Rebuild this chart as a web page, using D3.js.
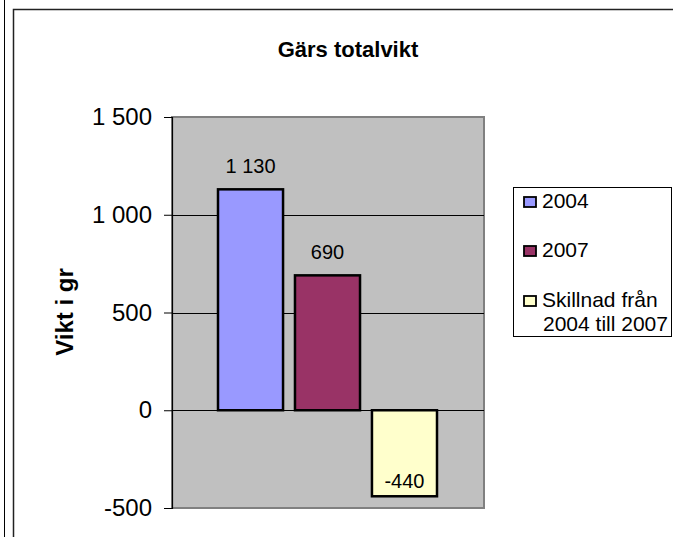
<!DOCTYPE html>
<html>
<head>
<meta charset="utf-8">
<script src="https://cdn.jsdelivr.net/npm/d3@7"></script>
<style>
  html, body { margin: 0; padding: 0; background: #fff; overflow: hidden; }
  svg { display: block; }
  text { font-family: "Liberation Sans", Arial, sans-serif; fill: #000; }
</style>
</head>
<body>
<svg id="chart" width="673" height="537"></svg>
<script>
// Series and their values
const seriesNames = ["2004", "2007", "Skillnad från 2004 till 2007"];
const legendLines = [["2004"], ["2007"], ["Skillnad från", "2004 till 2007"]];
const values = [1130, 690, -440];
const valueLabels = ["1 130", "690", "-440"];
const colors = ["#9999ff", "#993366", "#ffffcc"];
const yTicks = [-500, 0, 500, 1000, 1500];
const yTickLabels = ["-500", "0", "500", "1 000", "1 500"];

const svg = d3.select("#chart");

// Outer frames
svg.append("line").attr("x1", 4.5).attr("x2", 4.5).attr("y1", 0).attr("y2", 537)
  .attr("stroke", "#000").attr("stroke-width", 1);
svg.append("path").attr("d", "M13.5,537 V9.5 H673")
  .attr("fill", "none").attr("stroke", "#222").attr("stroke-width", 1.5);

const plot = { left: 172, right: 484, top: 117, bottom: 508 };

const y = d3.scaleLinear().domain([-500, 1500]).range([plot.bottom, plot.top]);
const x = d3.scaleBand().domain(seriesNames).range([plot.left + 46, plot.right - 47])
  .paddingInner(0.155).paddingOuter(0);

// Plot area
svg.append("rect").attr("x", plot.left).attr("y", plot.top)
  .attr("width", plot.right - plot.left).attr("height", plot.bottom - plot.top)
  .attr("fill", "#c0c0c0").attr("stroke", "#808080").attr("stroke-width", 2);

// Gridlines
svg.append("g").selectAll("line").data(yTicks.filter(t => t !== -500 && t !== 1500)).join("line")
  .attr("x1", plot.left).attr("x2", plot.right)
  .attr("y1", d => Math.round(y(d)) + 0.5).attr("y2", d => Math.round(y(d)) + 0.5)
  .attr("stroke", "#000").attr("stroke-width", 1);

// Y axis
const yAxis = d3.axisLeft(y).tickValues(yTicks)
  .tickFormat((d, i) => yTickLabels[i]).tickSize(8).tickPadding(12);
const gy = svg.append("g").attr("transform", `translate(${plot.left},0)`).call(yAxis);
gy.select(".domain").attr("stroke", "#000").attr("stroke-width", 1.2);
gy.selectAll(".tick line").attr("stroke", "#000");
gy.selectAll(".tick text").attr("font-size", 24).attr("fill", "#000")
  .attr("font-family", "'Liberation Sans', Arial, sans-serif");

// Bars
svg.append("g").selectAll("rect").data(values).join("rect")
  .attr("x", (d, i) => x(seriesNames[i]))
  .attr("y", d => y(Math.max(0, d)))
  .attr("width", x.bandwidth())
  .attr("height", d => Math.abs(y(d) - y(0)))
  .attr("fill", (d, i) => colors[i])
  .attr("stroke", "#000").attr("stroke-width", 2.5);

// Value labels
svg.append("g").selectAll("text").data(values).join("text")
  .attr("x", (d, i) => x(seriesNames[i]) + x.bandwidth() / 2)
  .attr("y", d => d >= 0 ? y(d) - 16 : y(d) - 8)
  .attr("text-anchor", "middle").attr("font-size", 20)
  .text((d, i) => valueLabels[i]);

// Title
svg.append("text").attr("x", 348).attr("y", 57).attr("text-anchor", "middle")
  .attr("font-size", 22).attr("font-weight", "bold").text("Gärs totalvikt");

// Y axis title
svg.append("text").attr("transform", "translate(73,312) rotate(-90)")
  .attr("text-anchor", "middle").attr("font-size", 24).attr("font-weight", "bold")
  .text("Vikt i gr");

// Legend
const lg = svg.append("g");
lg.append("rect").attr("x", 513.5).attr("y", 187.5).attr("width", 158).attr("height", 149)
  .attr("fill", "#fff").attr("stroke", "#000").attr("stroke-width", 1);
const rowY = [208, 257, 307];
legendLines.forEach((lines, i) => {
  lg.append("rect").attr("x", 524).attr("y", rowY[i] - 11).attr("width", 12).attr("height", 10)
    .attr("fill", colors[i]).attr("stroke", "#000").attr("stroke-width", 1.8);
  lines.forEach((t, j) => {
    lg.append("text").attr("x", j === 0 ? 542 : 543).attr("y", rowY[i] + j * 24)
      .attr("font-size", 21).text(t);
  });
});
</script>
</body>
</html>
